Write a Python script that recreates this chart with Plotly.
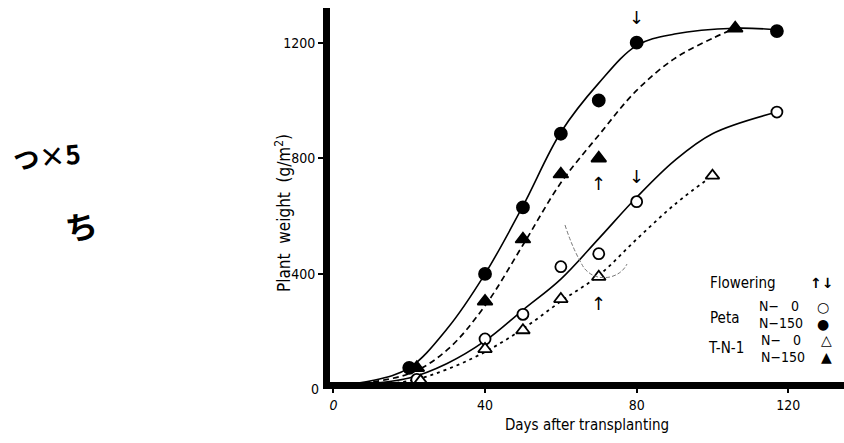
import plotly.graph_objects as go

# ---- data ----
peta_n150_days = [20, 40, 50, 60, 70, 80, 117]
peta_n150_wt = [75, 400, 630, 885, 1000, 1200, 1240]
tn1_n150_days = [22, 40, 50, 60, 70, 106]
tn1_n150_wt = [75, 305, 520, 745, 800, 1250]
peta_n0_days = [22, 40, 50, 60, 70, 80, 117]
peta_n0_wt = [35, 175, 260, 425, 470, 650, 960]
tn1_n0_days = [23, 40, 50, 60, 70, 100]
tn1_n0_wt = [30, 140, 205, 313, 390, 740]

# hand-drawn growth curves (knots)
c_peta_n150_d = [0, 10, 20, 30, 40, 50, 60, 70, 80, 90, 106, 117]
c_peta_n150_w = [15, 30, 75, 210, 400, 635, 890, 1060, 1190, 1230, 1250, 1245]
c_tn1_n150_d = [0, 20, 30, 40, 50, 60, 70, 80, 90, 100, 106]
c_tn1_n150_w = [10, 55, 137, 290, 500, 715, 880, 1035, 1145, 1215, 1250]
c_peta_n0_d = [0, 20, 30, 40, 50, 60, 70, 80, 90, 100, 117]
c_peta_n0_w = [10, 40, 90, 168, 275, 382, 522, 665, 792, 885, 960]
c_tn1_n0_d = [0, 20, 30, 40, 50, 60, 70, 80, 90, 100]
c_tn1_n0_w = [8, 30, 70, 130, 210, 305, 395, 520, 640, 740]

x_ticks = [0, 40, 80, 120]
x_tick_text = ["<i>0</i>", "40", "80", "120"]
y_ticks = [400, 800, 1200]
y_tick_text = ["400", "800", "1200"]

FONT = "Liberation Sans Narrow, DejaVu Sans Condensed, sans-serif"

# plot area in pixels (for paper-coordinate text placement)
L, R, T, B = 330, 844, 8, 382

def px(x):
    return (x - L) / (R - L)

def py(y):
    return (B - y) / (B - T)

fig = go.Figure()

def curve(d, w, dash, width=1.6):
    fig.add_trace(go.Scatter(x=d, y=w, mode="lines",
                             line=dict(color="black", width=width, dash=dash, shape="spline", smoothing=1.0),
                             hoverinfo="skip", showlegend=False, cliponaxis=False))

curve(c_peta_n150_d, c_peta_n150_w, "solid")
curve(c_tn1_n150_d, c_tn1_n150_w, "6px,4px", 1.7)
curve(c_peta_n0_d, c_peta_n0_w, "solid")
curve(c_tn1_n0_d, c_tn1_n0_w, "3px,4px", 1.8)

def pts(d, w, sym, size, fill):
    fig.add_trace(go.Scatter(x=d, y=w, mode="markers",
                             marker=dict(symbol=sym, size=size, color=fill,
                                         line=dict(color="black", width=1.8)),
                             hoverinfo="skip", showlegend=False, cliponaxis=False))

pts(peta_n150_days, peta_n150_wt, "circle", 12, "black")
pts(tn1_n150_days, tn1_n150_wt, "triangle-up", 13, "black")
pts(peta_n0_days, peta_n0_wt, "circle", 11, "white")
pts(tn1_n0_days, tn1_n0_wt, "triangle-up", 12, "white")

# flowering arrows
arrows = [(80, 1200, "↓", 25), (80, 650, "↓", 25), (70, 800, "↑", -25), (70, 390, "↑", -27)]
for ax_, ay_, t, ys in arrows:
    fig.add_annotation(x=ax_, y=ay_, text=t, showarrow=False, yshift=ys,
                       font=dict(family="DejaVu Sans", size=18, color="black"))

# y tick label "0" at the origin
fig.add_annotation(xref="paper", yref="paper", x=px(321), y=py(389), text="0", showarrow=False,
                   xanchor="right", yanchor="middle", font=dict(family=FONT, size=14, color="black"))

# y-axis title
fig.add_annotation(xref="paper", yref="paper", x=px(283), y=py(213), text="Plant  weight  (g/m<sup>2</sup>)",
                   showarrow=False, textangle=-90, xanchor="center", yanchor="middle",
                   font=dict(family=FONT, size=17, color="black"))

# legend block
leg = [
    (708, 283, "Flowering", 15),
    (708, 318, "Peta", 15),
    (706, 348, "T-N-1", 15),
    (757, 306, "N−   0", 14),
    (757, 323, "N−150", 14),
    (759, 340, "N−   0", 14),
    (759, 357, "N−150", 14),
]
for x, y, t, s in leg:
    fig.add_annotation(xref="paper", yref="paper", x=px(x), y=py(y), text=t, showarrow=False,
                       xanchor="left", yanchor="middle", font=dict(family=FONT, size=s, color="black"))
fig.add_annotation(xref="paper", yref="paper", x=px(821), y=py(283), text="<b>↑↓</b>", showarrow=False,
                   xanchor="center", yanchor="middle", font=dict(family="DejaVu Sans", size=14, color="black"))
syms = [(823, 307, "○"), (823, 324, "●"), (826, 340, "△"), (826, 357, "▲")]
for x, y, t in syms:
    fig.add_annotation(xref="paper", yref="paper", x=px(x), y=py(y), text=t, showarrow=False,
                       xanchor="center", yanchor="middle", font=dict(family="DejaVu Sans", size=14, color="black"))

# faint pencil scribble between the lower curves
fig.add_shape(type="path", xref="paper", yref="paper",
              path=("M {:.4f},{:.4f} Q {:.4f},{:.4f} {:.4f},{:.4f} Q {:.4f},{:.4f} {:.4f},{:.4f} Q {:.4f},{:.4f} {:.4f},{:.4f}"
                    .format(px(565), py(225), px(573), py(250), px(584), py(268),
                            px(594), py(280), px(610), py(277), px(622), py(274), px(627), py(264))),
              line=dict(color="#777777", width=1, dash="4px,2px"))

# handwritten notes at left
fig.add_annotation(xref="paper", yref="paper", x=px(46), y=py(155), text="<b>つ×5</b>", showarrow=False,
                   xanchor="center", yanchor="middle",
                   textangle=-6, font=dict(family="Noto Sans CJK JP", size=26, color="black"))
fig.add_annotation(xref="paper", yref="paper", x=px(81), y=py(225), text="<b>ち</b>", showarrow=False,
                   xanchor="center", yanchor="middle",
                   textangle=-10, font=dict(family="Noto Sans CJK JP", size=32, color="black"))

fig.update_layout(
    width=844, height=443, margin=dict(l=L, r=0, t=T, b=443 - B),
    paper_bgcolor="white", plot_bgcolor="white",
    font=dict(family=FONT, size=14, color="black"),
    xaxis=dict(range=[-0.9, 134.7], tickvals=x_ticks, ticktext=x_tick_text,
               showgrid=False, zeroline=False, showline=True, linewidth=7, linecolor="black",
               ticks="outside", ticklen=4, tickwidth=1.5, tickcolor="black",
               title=dict(text="Days after transplanting", font=dict(family=FONT, size=15), standoff=10)),
    yaxis=dict(range=[26, 1320], tickvals=y_ticks, ticktext=y_tick_text,
               showgrid=False, zeroline=False, showline=True, linewidth=7, linecolor="black",
               ticks="outside", ticklen=5, tickwidth=1.5, tickcolor="black"),
)

fig.write_html("out.html")
